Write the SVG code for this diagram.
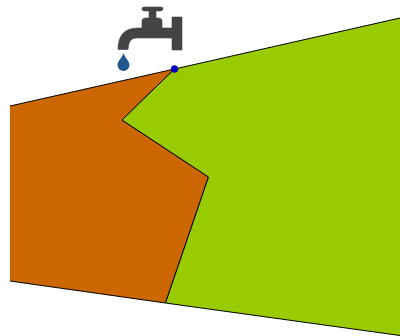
<svg xmlns="http://www.w3.org/2000/svg" width="400" height="336" viewBox="0 0 400 336">
<style>.r{fill:none;stroke:#000;stroke-width:1;stroke-linejoin:miter}</style>
<rect width="400" height="336" fill="#fff"/>
<g id="orange">
<path fill="#cc6600" d="M10 106L174.500 69L122 120L208.500 177L165.500 303L10 281Z"/>
<path class="r" d="M10 106L174.500 69L122 120L208.500 177L165.500 303L10 281"/>
</g>
<g id="green">
<path fill="#99cc00" d="M174.500 69L400 18L400 335.500L165.500 303L208.500 177L122 120Z"/>
<path class="r" d="M174.500 69L400 18M400 335.500L165.500 303L208.500 177L122 120L174.500 69"/>
</g>
<g id="faucet" fill="#444">
<path stroke="#444" stroke-width="0.600" d="M144 7H161Q163.500 7.500 163 9.500Q162 11 160 11H156V18H159Q162 18.500 162 21V28H172V17H182V50H172V38H136Q128.500 38 128 49.500H118Q118 28.500 137 28H142V21Q142 18.500 145 18H149V11H145Q142 11 142 9Q142 7 144 7Z"/>
</g>
<path id="drop" fill="#23588f" d="M123.500 53C125 58 129.500 61 129.500 65A6 6 0 0 1 117.500 65C117.500 61 122 58 123.500 53Z"/>
<circle id="point" cx="174.500" cy="69" r="3.500" fill="#0000cc" stroke="#000080" stroke-width="0.500"/>
</svg>
